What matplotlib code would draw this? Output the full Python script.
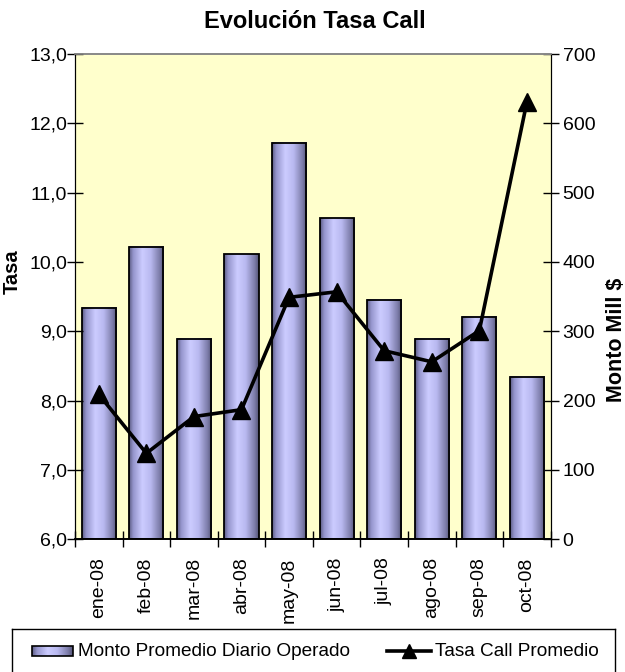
import matplotlib
matplotlib.use("Agg")
import matplotlib.pyplot as plt
import numpy as np
from matplotlib.patches import Rectangle
from matplotlib.lines import Line2D

plt.rcParams['font.family'] = ['Liberation Sans', 'DejaVu Sans']

# ---- data ----
months = ["ene-08", "feb-08", "mar-08", "abr-08", "may-08",
          "jun-08", "jul-08", "ago-08", "sep-08", "oct-08"]
monto = [334, 422, 289, 411, 572, 463, 345, 289, 321, 234]
tasa = [8.09, 7.24, 7.77, 7.87, 9.49, 9.57, 8.72, 8.56, 9.01, 12.31]
tasa_ticks = [6.0, 7.0, 8.0, 9.0, 10.0, 11.0, 12.0, 13.0]
monto_ticks = [0, 100, 200, 300, 400, 500, 600, 700]

W, H = 625, 672
fig = plt.figure(figsize=(W / 100, H / 100), dpi=100)
fig.patch.set_facecolor('white')

L, R, T, B = 75, 550.7, 54, 539.3
ax = fig.add_axes([L / W, 1 - B / H, (R - L) / W, (B - T) / H])
ax2 = ax.twinx()
ax.set_zorder(ax2.get_zorder() + 1)
ax.patch.set_visible(False)
ax2.patch.set_visible(True)
ax2.patch.set_facecolor('#FFFFCC')

# gradient for bars
stops_x = [0.0, 0.12, 0.38, 0.62, 0.88, 1.0]
stops_c = np.array([[95, 95, 135], [150, 150, 205], [204, 204, 255],
                    [185, 185, 240], [125, 125, 170], [85, 85, 120]]) / 255.0
xs = np.linspace(0, 1, 64)
grad = np.stack([np.interp(xs, stops_x, stops_c[:, k]) for k in range(3)], axis=-1)[None, :, :]

x = np.arange(len(months))
bw = 0.72
rects = ax2.bar(x, monto, width=bw, facecolor='none', edgecolor='black',
                linewidth=1.3, zorder=3)
for r in rects:
    x0, y0 = r.get_x(), r.get_y()
    ax2.imshow(grad, extent=[x0, x0 + r.get_width(), y0, y0 + r.get_height()],
               aspect='auto', zorder=2, interpolation='bilinear')

ax.plot(x, tasa, color='black', linewidth=2.6, marker='^', markersize=13,
        markerfacecolor='black', markeredgecolor='black', zorder=5, clip_on=False)

ax.set_xlim(-0.5, len(months) - 0.5)
ax2.set_xlim(-0.5, len(months) - 0.5)
ax.set_ylim(6, 13)
ax2.set_ylim(0, 700)

ax.set_yticks(tasa_ticks)
ax.set_yticklabels([f"{v:.1f}".replace('.', ',') for v in tasa_ticks], fontsize=14)
ax2.set_yticks(monto_ticks)
ax2.set_yticklabels([str(v) for v in monto_ticks], fontsize=14)

ax.set_xticks(x)
ax.set_xticklabels(months, rotation=90, fontsize=14)
ax.tick_params(axis='x', length=0, pad=13)
ax.set_xticks(np.arange(-0.5, len(months)), minor=True)
ax.tick_params(axis='x', which='minor', direction='inout', length=12, width=1, color='black')
ax.tick_params(axis='y', direction='inout', length=11, width=1, color='black', pad=0)
ax2.tick_params(axis='y', direction='inout', length=11, width=1, color='black', pad=3)
ax2.tick_params(axis='x', length=0)

for a in (ax, ax2):
    a.spines['top'].set_color('#888888')
    a.spines['top'].set_linewidth(1.2)
    a.spines['left'].set_color('black')
    a.spines['right'].set_color('black')
    a.spines['bottom'].set_color('black')
    a.spines['bottom'].set_linewidth(1.2)

fig.text(315 / W, 1 - 21 / H, "Evolución Tasa Call", ha='center', va='center',
         fontsize=17, fontweight='bold')
fig.text(12 / W, 1 - 272 / H, "Tasa", ha='center', va='center', rotation=90,
         fontsize=14.5, fontweight='bold')
fig.text(616 / W, 1 - 340 / H, "Monto Mill $", ha='center', va='center', rotation=90,
         fontsize=15.5, fontweight='bold')

# ---- legend (manual box, cut off at bottom like the reference) ----
lx0, lx1, ly_top = 11.7, 615, 629.3
axl = fig.add_axes([lx0 / W, 0, (lx1 - lx0) / W, (H - ly_top) / H])
axl.set_xticks([])
axl.set_yticks([])
axl.spines['bottom'].set_visible(False)
for s in ('top', 'left', 'right'):
    axl.spines[s].set_color('black')
    axl.spines[s].set_linewidth(1.0)
yc = H - 651
axl.imshow(grad, extent=[20, 61, yc - 5, yc + 5], aspect='auto', interpolation='bilinear')
axl.add_patch(Rectangle((20, yc - 5), 41, 10, facecolor='none', edgecolor='black', linewidth=1.2))
axl.text(66.3, yc, "Monto Promedio Diario Operado", va='center', ha='left', fontsize=13.7)
axl.add_line(Line2D([375.3, 419], [yc, yc], color='black', linewidth=2.6))
axl.plot([397], [yc], marker='^', color='black', markersize=10)
axl.text(423.3, yc, "Tasa Call Promedio", va='center', ha='left', fontsize=13.7)
axl.set_xlim(0, lx1 - lx0)
axl.set_ylim(0, H - ly_top)

fig.savefig("out.png", dpi=100)
